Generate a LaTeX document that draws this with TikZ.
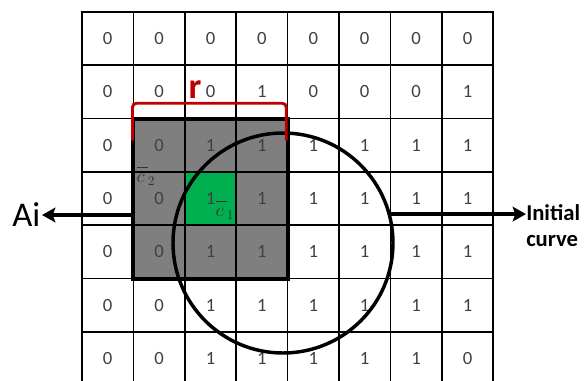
\documentclass[tikz,border=0pt]{standalone}
\usepackage{fontspec}
\setmainfont{Carlito}
\usetikzlibrary{positioning, arrows.meta, fit, backgrounds}

\definecolor{winGray}{HTML}{7F7F7F}
\definecolor{cellGreen}{HTML}{00B050}
\definecolor{bracketRed}{HTML}{C00000}
\definecolor{digitGray}{HTML}{404040}

\begin{document}
\begin{tikzpicture}[
    x=0.75pt, y=-0.75pt,
    cell/.style={draw, rectangle, minimum width=38.55pt, minimum height=40pt, inner sep=0pt, outer sep=0pt, line width=1.2pt, font=\fontsize{14}{16}\selectfont, text=digitGray},
    winbox/.style={draw, rectangle, inner sep=0pt, line width=3pt},
    curvering/.style={draw, circle, minimum size=165pt, inner sep=0pt, line width=2.6pt},
    bigarrow/.style={-{Stealth[length=10pt, width=11pt, inset=2pt]}, line width=3pt},
    rbracket/.style={draw=bracketRed, line width=2.2pt, rounded corners=3pt},
    clabel/.style={inner sep=0pt, text=black!80, font=\fontsize{14}{16}\selectfont},
]
\useasboundingbox (0,0) rectangle (587,380);
\clip (0,0) rectangle (587,380);

% Grid of cell values
\foreach \vals [count=\r from 0] in {{0,0,0,0,0,0,0,0},{0,0,0,1,0,0,0,1},{0,0,1,1,1,1,1,1},{0,0,1,1,1,1,1,1},{0,0,1,1,1,1,1,1},{0,0,1,1,1,1,1,1},{0,0,1,1,1,1,1,0}}
  \foreach \v [count=\c from 0] in \vals
    \node[cell] (cell-\r-\c) at (107.7+51.4*\c, 38.65+53.3*\r) {\v};

% Local window around the pixel
\node[winbox, fit=(cell-2-1)(cell-4-3)] (win) {};
\begin{pgfonlayer}{background}
  \fill[winGray] (win.north west) rectangle (win.south east);
  \fill[cellGreen] (cell-3-2.north west) rectangle (cell-3-2.south east);
\end{pgfonlayer}

% Mean labels
\node[clabel] (cbar2) at (146,176) {$\overline{\vphantom{b}c\,}_{2}$};
\node[clabel] (cbar1) at (225,210) {$\overline{\vphantom{b}c\,}_{1}$};

% Initial curve
\node[curvering] (curve) at (283,243) {};

% Labels and arrows
\node[anchor=east, inner sep=1pt, font=\fontsize{26}{28}\selectfont] (ai) at (42,215) {Ai};
\node[anchor=north west, inner sep=0pt, align=left, font=\fontsize{17}{20}\selectfont\bfseries] (init) at (526,204) {Initial\\curve};
\draw[bigarrow] (ai.east -| win.west) -- (ai.east);
\draw[bigarrow] (curve.15) -- (curve.15 -| init.west);

% Radius bracket
\draw[rbracket] ([xshift=0.8pt, yshift=-18pt]win.north west) |- ([yshift=10pt]win.north) -| ([xshift=-2.5pt, yshift=-18pt]win.north east);
\node[inner sep=0pt, text=bracketRed, font=\fontsize{27}{30}\selectfont\bfseries] (r) at (195,90) {r};

\end{tikzpicture}
\end{document}
